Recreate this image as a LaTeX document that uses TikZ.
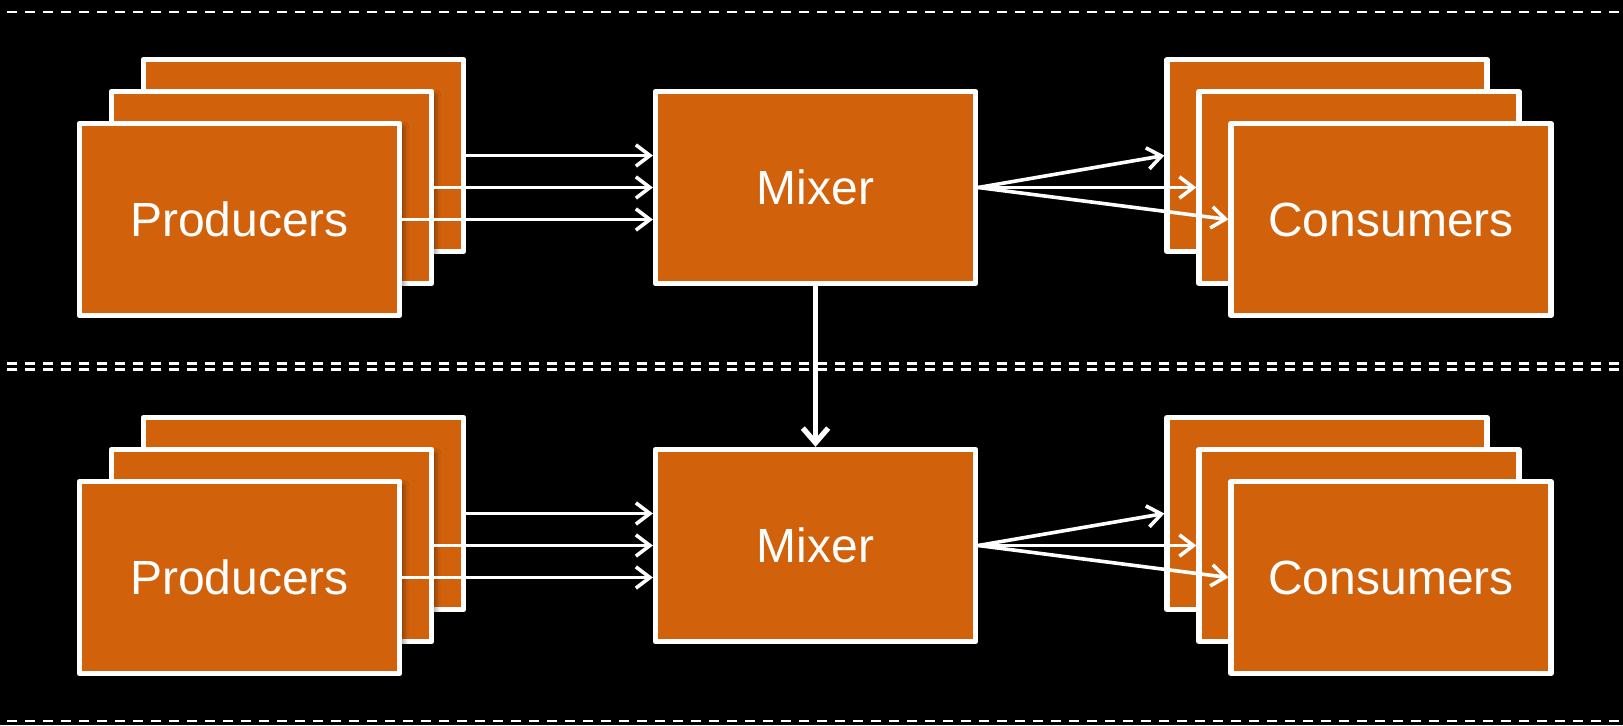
\documentclass[tikz,border=0pt]{standalone}
\usepackage{fontspec}
\setmainfont{Liberation Sans}
\usetikzlibrary{arrows.meta,shadows.blur}
\definecolor{boxorange}{RGB}{209,97,11}
\begin{document}
\begin{tikzpicture}[x=0.75pt,y=-0.75pt,
  card/.style={draw=white, line width=4pt, fill=boxorange, minimum width=240pt,
    minimum height=144pt, inner sep=0pt, line join=round, text=white,
    font=\fontsize{36}{40}\selectfont,
    blur shadow={shadow xshift=3pt, shadow yshift=-3pt, shadow opacity=45, shadow blur radius=4pt}},
  flow/.style={draw=white, line width=2.7pt, -{Straight Barb[length=10.5pt,width=16pt,line width=2.7pt]}},
  drop/.style={draw=white, line width=4pt, -{Straight Barb[length=11pt,width=19pt,line width=4pt]}},
  sep/.style={draw=white, line width=2pt, dash pattern=on 7.5pt off 6pt}]
\useasboundingbox (0,0) rectangle (1623,725);
\fill[black] (0,0) rectangle (1623,725);
\draw[sep] (7,12) -- (1623,12);
\draw[sep] (7,363.5) -- (1623,363.5);
\draw[sep] (7,369.5) -- (1623,369.5);
\draw[sep] (7,721) -- (1623,721);
\foreach \r/\dy in {1/0,2/358}{
  \node[card] (mx\r) at (815.5,187.5+\dy) {Mixer};
  \node[card] (pc\r) at (303.5,155.5+\dy) {};
  \node[card] (pb\r) at (271.5,187.5+\dy) {};
  \node[card] (pa\r) at (239.5,219.5+\dy) {Producers};
  \node[card] (cc\r) at (1327,155.5+\dy) {};
  \node[card] (cb\r) at (1359,187.5+\dy) {};
  \node[card] (ca\r) at (1391,219.5+\dy) {Consumers};
  \draw[flow] (pc\r.east) -- (pc\r.east -| mx\r.west);
  \draw[flow] (pb\r.east) -- (pb\r.east -| mx\r.west);
  \draw[flow] (pa\r.east) -- (pa\r.east -| mx\r.west);
  \draw[flow] (mx\r.east) -- (cc\r.west);
  \draw[flow] (mx\r.east) -- (cb\r.west);
  \draw[flow] (mx\r.east) -- (ca\r.west);
}
\draw[drop] (mx1.south) -- (mx2.north);
\end{tikzpicture}
\end{document}
